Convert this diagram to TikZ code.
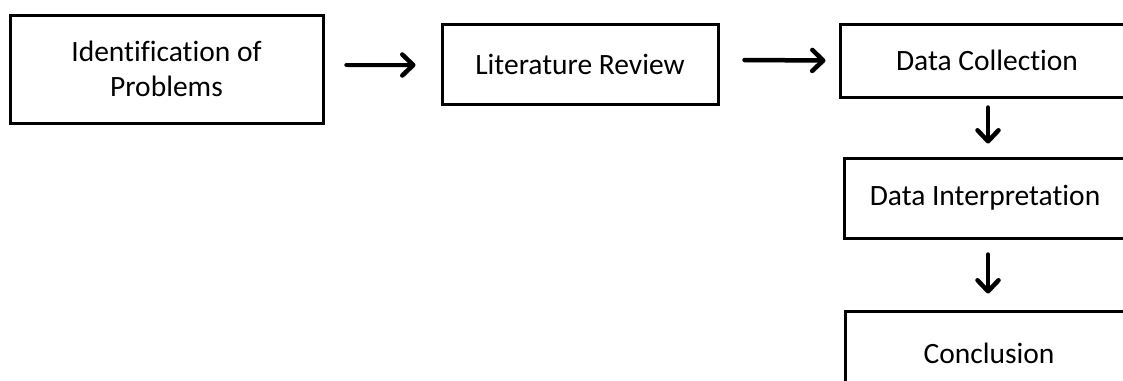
\documentclass[tikz,border=0pt]{standalone}
\usepackage{fontspec}
\setmainfont{Carlito}[Ligatures={NoCommon}]
\usetikzlibrary{arrows.meta}
\begin{document}
\begin{tikzpicture}[x=1pt,y=-1pt,
  box/.style={draw=black, line width=3pt, rectangle, inner sep=0pt, align=center,
    font=\fontsize{29.5}{35}\selectfont},
  arrbase/.style={line width=4.5pt, line cap=round, -{Straight Barb[length=11pt,width=21pt,line cap=round,line join=round]}},
  arr/.style={arrbase, preaction={draw=black!35, opacity=0.35, transform canvas={shift={(1.5pt,-2.5pt)}}}}]
\useasboundingbox (0,0) rectangle (1123,380);
\clip (0,0) rectangle (1123,380);
\node[box, minimum width=313pt, minimum height=108pt] (ident) at (166.5,69) {Identification of\\Problems};
\node[box, minimum width=276pt, minimum height=80pt] (lit) at (580,64) {Literature Review};
\node[box, minimum width=294pt, minimum height=73pt] (coll) at (987,60.5) {Data Collection};
\node[box, minimum width=282pt, minimum height=80pt] (interp) at (985,198) {Data Interpretation};
\node[box, minimum width=288pt, minimum height=84pt] (concl) at (989,353) {Conclusion};
\draw[arr] ([xshift=22pt,yshift=4pt]ident.east) -- ([xshift=-25pt,yshift=-1pt]lit.west);
\draw[arr] ([xshift=25pt,yshift=4pt]lit.east) -- ([xshift=-13pt]coll.west);
\draw[arr] ([xshift=1pt,yshift=-9pt]coll.south) -- ([xshift=3pt,yshift=13pt]interp.north);
\draw[arr] ([xshift=3pt,yshift=-15pt]interp.south) -- ([xshift=-1pt,yshift=16pt]concl.north);
\end{tikzpicture}
\end{document}
